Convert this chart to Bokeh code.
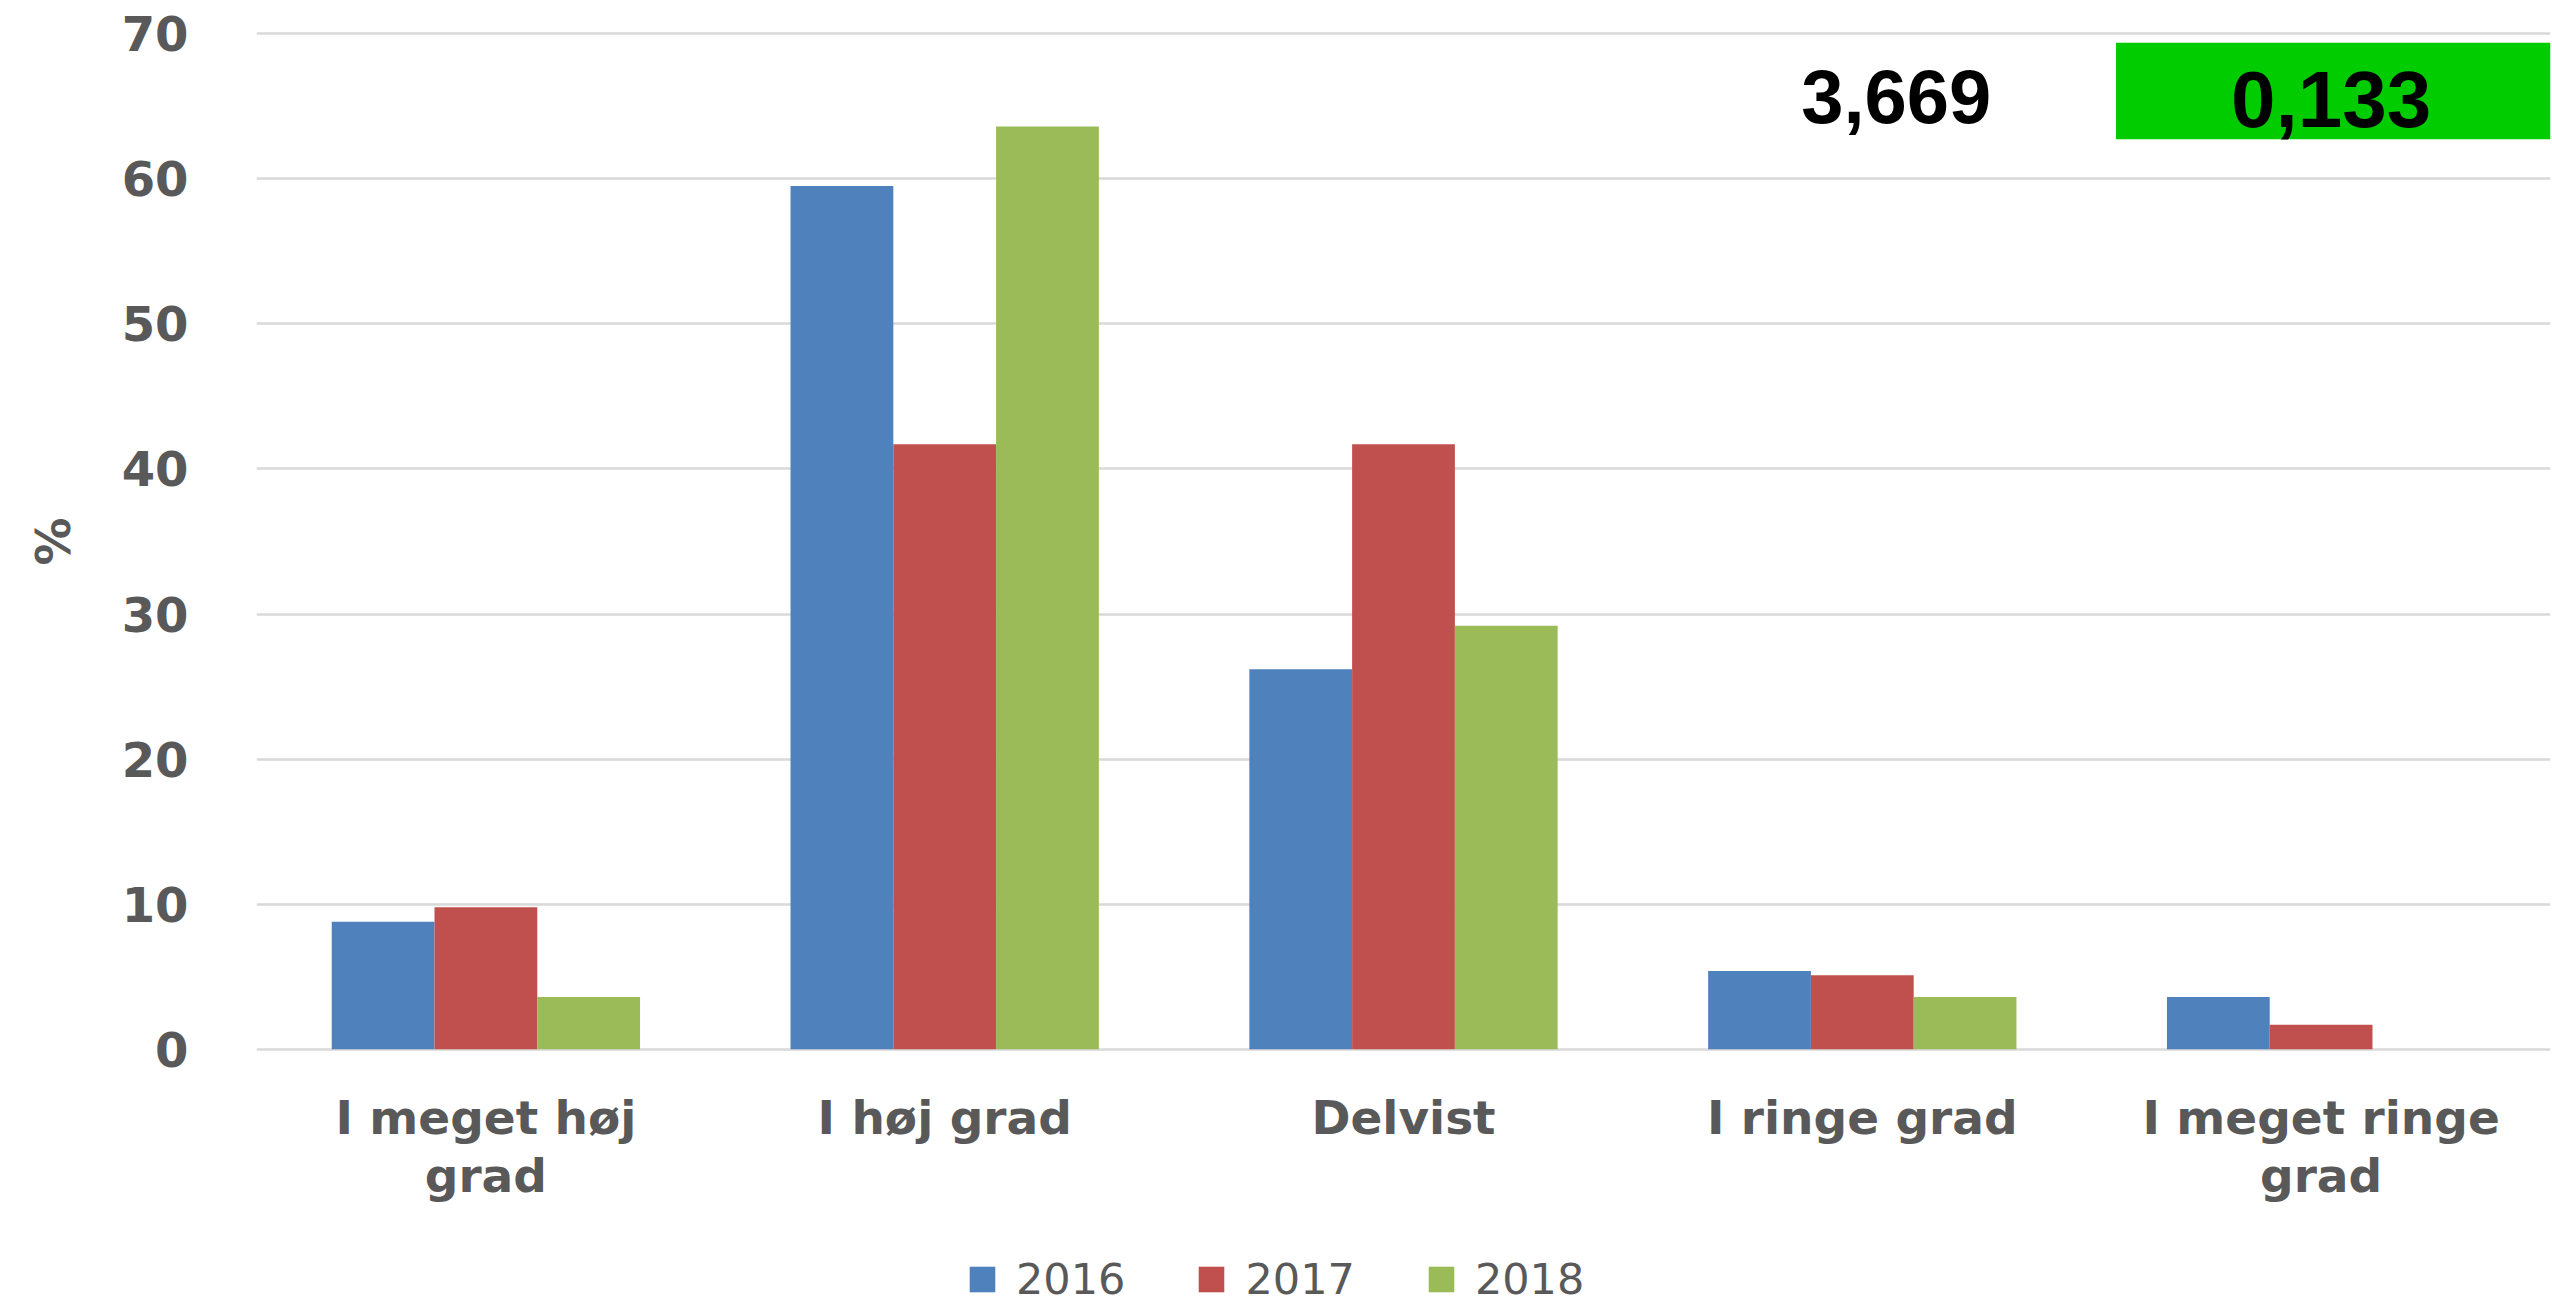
from bokeh.plotting import figure
from bokeh.layouts import column
from bokeh.models import (FactorRange, Range1d, Legend, LegendItem, Label,
                          BoxAnnotation, ColumnDataSource, FixedTicker)
from bokeh.transform import dodge
from bokeh.embed import file_html
from bokeh.resources import INLINE

# ---- data ----
categories = ["I meget høj\ngrad", "I høj grad", "Delvist", "I ringe grad", "I meget ringe\ngrad"]
years = ["2016", "2017", "2018"]
v2016 = [8.8, 59.5, 26.2, 5.4, 3.6]
v2017 = [9.8, 41.7, 41.7, 5.1, 1.7]
v2018 = [3.6, 63.6, 29.2, 3.6, 0.0]
y_ticks = [0, 10, 20, 30, 40, 50, 60, 70]
y_label = "%"
note_value = "3,669"
note_box_value = "0,133"

colors = ["#4F81BD", "#C0504D", "#9BBB59"]
GRAY = "#595959"
FONT = "DejaVu Sans"

src = ColumnDataSource(dict(cat=categories, y2016=v2016, y2017=v2017, y2018=v2018))

LEG_H = 75
p = figure(frame_width=2294, frame_height=1020, x_range=FactorRange(*categories),
           y_range=Range1d(-0.15, 70.15), output_backend="svg",
           toolbar_location=None, min_border_left=256, min_border_right=2,
           min_border_top=31, min_border_bottom=1304 - LEG_H - 1051)
p.outline_line_color = None
p.background_fill_color = "white"

bw = 0.224
for i, (yr, col) in enumerate(zip(years, colors)):
    p.vbar(x=dodge("cat", (i - 1) * bw, range=p.x_range), top="y" + yr,
           width=bw, source=src, fill_color=col, line_color=None)

# grid
p.xgrid.grid_line_color = None
p.ygrid.grid_line_color = "#d9d9d9"
p.ygrid.grid_line_width = 2.5
p.yaxis.ticker = FixedTicker(ticks=y_ticks)

# y axis
p.yaxis.axis_line_color = None
p.yaxis.major_tick_line_color = None
p.yaxis.minor_tick_line_color = None
p.yaxis.major_tick_out = 0
p.yaxis.major_tick_in = 0
p.yaxis.major_label_standoff = 68
p.yaxis.major_label_text_font = FONT
p.yaxis.major_label_text_font_style = "bold"
p.yaxis.major_label_text_font_size = "48px"
p.yaxis.major_label_text_color = GRAY
p.yaxis.axis_label = y_label
p.yaxis.axis_label_text_font = FONT
p.yaxis.axis_label_text_font_style = "bold"
p.yaxis.axis_label_text_font_size = "48px"
p.yaxis.axis_label_text_color = GRAY
p.yaxis.axis_label_standoff = 38

# x axis
p.xaxis.axis_line_color = None
p.xaxis.major_tick_line_color = None
p.xaxis.minor_tick_line_color = None
p.xaxis.major_tick_out = 0
p.xaxis.major_tick_in = 0
p.xaxis.major_label_standoff = 38
p.xaxis.major_label_text_font = FONT
p.xaxis.major_label_text_font_style = "bold"
p.xaxis.major_label_text_font_size = "47px"
p.xaxis.major_label_text_color = GRAY
p.xaxis.major_label_text_line_height = 1.06

# overlay annotations
box = BoxAnnotation(left=4.053, right=5.0, bottom=62.73, top=69.38,
                    fill_color="#00CC00", fill_alpha=1.0, line_color=None)
p.add_layout(box)
p.add_layout(Label(x=3.574, y=65.66, text=note_value, text_align="center",
                   text_baseline="middle", text_font="Liberation Sans",
                   text_font_style="bold", text_font_size="76px", text_color="black"))
p.add_layout(Label(x=4.522, y=65.45, text=note_box_value, text_align="center",
                   text_baseline="middle", text_font="Liberation Sans",
                   text_font_style="bold", text_font_size="80px", text_color="black"))

# legend strip below the chart (series glyphs are kept hidden; only the key shows)
lf = figure(width=2552, height=LEG_H, x_range=FactorRange(*categories),
            y_range=Range1d(0, 1), x_axis_type=None, y_axis_type=None,
            output_backend="svg", toolbar_location=None, min_border=0)
lf.outline_line_color = None
lf.xgrid.grid_line_color = None
lf.ygrid.grid_line_color = None
key_renderers = []
for i, (yr, col) in enumerate(zip(years, colors)):
    r = lf.vbar(x=dodge("cat", (i - 1) * bw, range=lf.x_range), top="y" + yr,
                width=bw, source=src, fill_color=col, line_color=None, visible=False)
    key_renderers.append(r)

legend = Legend(items=[LegendItem(label=yr, renderers=[r]) for yr, r in zip(years, key_renderers)],
                orientation="horizontal", location=(710, 0),
                glyph_width=32, glyph_height=32, label_standoff=18, spacing=70,
                label_text_font=FONT, label_text_font_size="43px",
                label_text_color=GRAY, border_line_color=None,
                padding=0, margin=0, background_fill_alpha=0,
                inactive_fill_alpha=0)
lf.add_layout(legend)

layout = column(p, lf, spacing=0)
open("out.html", "w").write(file_html(layout, INLINE))
